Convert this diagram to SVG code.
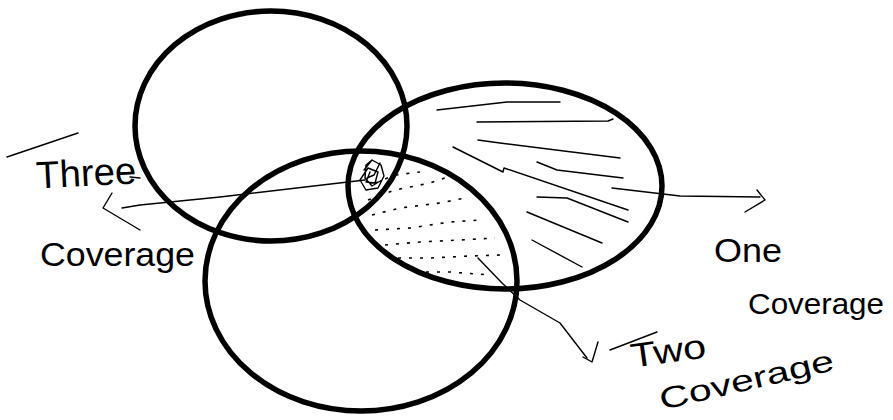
<svg xmlns="http://www.w3.org/2000/svg" width="893" height="420" viewBox="0 0 893 420">
<style>
.c{fill:none;stroke:#000;stroke-width:5.5}
.l{fill:none;stroke:#000;stroke-width:1.4;stroke-linecap:round;stroke-linejoin:round}
.d{fill:none;stroke:#000;stroke-width:1.6;stroke-dasharray:3 8}
.t{font-family:"Liberation Sans",Arial,sans-serif;font-size:34px;fill:#000}
</style>
<rect width="893" height="420" fill="#fff"/>
<g id="hatching">
<polyline class="l" points="437,110 507,102 560,102"/>
<polyline class="l" points="477,122 608,121 613,119"/>
<polyline class="l" points="478,140 500,143 620,158"/>
<polyline class="l" points="453,147 503,172 504,168 628,210"/>
<polyline class="l" points="537,162 557,170 623,178"/>
<polyline class="l" points="537,197 567,198 628,222"/>
<polyline class="l" points="527,212 602,243"/>
<polyline class="l" points="532,240 582,267"/>
<polyline class="d" points="375,183 395,175 420,172"/>
<polyline class="d" points="368,200 395,190 430,183 445,178"/>
<polyline class="d" points="372,215 400,208 440,203 465,198"/>
<polyline class="d" points="375,230 410,228 450,222 480,220"/>
<polyline class="d" points="385,245 420,242 460,240 495,238"/>
<polyline class="d" points="398,258 430,258 470,256 500,255"/>
<polyline class="d" points="415,272 450,272 490,275"/>
</g>
<g id="scribble">
<path class="l" d="M364,170 L372,160 L381,165 L384,176 L378,188 L366,190 L360,180 L368,168 L378,172 L375,183 L366,182 L370,172 M372,160 L366,165 L365,178 L372,186 L382,180 M380,163 L374,175 L367,178"/>
</g>
<g id="circle-top">
<ellipse class="c" cx="271" cy="126" rx="136" ry="115"/>
</g>
<g id="circle-right">
<ellipse class="c" cx="505" cy="186" rx="157" ry="103"/>
</g>
<g id="circle-bottom">
<ellipse class="c" cx="361" cy="281" rx="156" ry="130"/>
</g>
<g id="connectors">
<polyline class="l" points="365,180 220,197 140,205 122,208"/>
<polyline class="l" points="112,193 103,208 140,230"/>
<polyline class="l" points="612,188 680,196 760,197"/>
<polyline class="l" points="757,190 765,200 745,212"/>
<polyline class="l" points="478,258 502,283 520,300 560,323 587,358"/>
<polyline class="l" points="583,357 592,362 598,342"/>
<polyline class="l" points="7,157 78,133"/>
<polyline class="l" points="130,177 140,178"/>
<polyline class="l" points="610,350 657,332"/>
</g>
<g id="label-three">
<text class="t" x="36" y="186" style="font-size:38px" textLength="100" lengthAdjust="spacingAndGlyphs" transform="rotate(-3 86 172)">Three</text>
</g>
<g id="label-three-coverage">
<text class="t" x="40" y="266" textLength="155" lengthAdjust="spacingAndGlyphs">Coverage</text>
</g>
<g id="label-one">
<text class="t" x="714" y="262" textLength="68" lengthAdjust="spacingAndGlyphs">One</text>
</g>
<g id="label-one-coverage">
<text class="t" x="748" y="314" style="font-size:30px" textLength="136" lengthAdjust="spacingAndGlyphs">Coverage</text>
</g>
<g id="label-two">
<text class="t" x="630" y="363" textLength="76" lengthAdjust="spacingAndGlyphs" transform="rotate(-8 665 350)">Two</text>
</g>
<g id="label-two-coverage">
<text class="t" x="662" y="410" style="font-size:30px" textLength="178" lengthAdjust="spacingAndGlyphs" transform="rotate(-13 662 410)">Coverage</text>
</g>
</svg>
